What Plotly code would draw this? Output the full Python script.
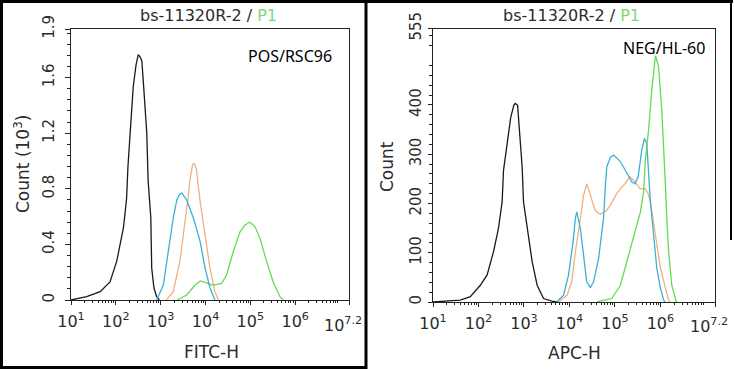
import math
import plotly.graph_objects as go

# ---------------- data (x in log10 units of fluorescence) ----------------
# Left panel: POS / RSC96, FITC-H, counts in thousands
pos_black_x = [1.0, 1.35, 1.65, 1.87, 2.02, 2.17, 2.24, 2.27, 2.35, 2.39, 2.45, 2.50, 2.54, 2.58, 2.63, 2.69, 2.72, 2.78, 2.80, 2.85, 2.91, 2.97]
pos_black_y = [0, 0.024, 0.06, 0.13, 0.28, 0.52, 0.73, 0.96, 1.35, 1.54, 1.69, 1.765, 1.75, 1.72, 1.49, 1.2, 0.86, 0.59, 0.23, 0.086, 0.024, 0]

pos_blue_x = [2.91, 3.06, 3.17, 3.28, 3.36, 3.42, 3.47, 3.52, 3.58, 3.73, 3.88, 3.99, 4.10, 4.21]
pos_blue_y = [0, 0.108, 0.35, 0.59, 0.72, 0.76, 0.77, 0.75, 0.72, 0.59, 0.42, 0.23, 0.086, 0]

pos_orange_x = [3.13, 3.28, 3.43, 3.54, 3.62, 3.65, 3.71, 3.74, 3.80, 3.83, 3.88, 3.99, 4.10, 4.21, 4.29]
pos_orange_y = [0, 0.06, 0.28, 0.54, 0.76, 0.86, 0.97, 0.985, 0.94, 0.84, 0.71, 0.47, 0.23, 0.06, 0]

pos_green_x = [3.36, 3.58, 3.77, 3.88, 3.99, 4.14, 4.25, 4.36, 4.47, 4.62, 4.77, 4.88, 4.99, 5.10, 5.22, 5.36, 5.51, 5.66, 5.73]
pos_green_y = [0, 0.036, 0.108, 0.137, 0.127, 0.108, 0.113, 0.12, 0.18, 0.35, 0.49, 0.54, 0.56, 0.53, 0.44, 0.28, 0.13, 0.024, 0]

# Right panel: NEG / HL-60, APC-H, counts
neg_black_x = [1.0, 1.31, 1.6, 1.82, 2.04, 2.19, 2.33, 2.44, 2.52, 2.55, 2.63, 2.71, 2.78, 2.81, 2.86, 2.91, 2.96, 2.99, 3.07, 3.18, 3.29, 3.43, 3.65, 3.75]
neg_black_y = [0, 2, 4, 11, 34, 55, 102, 150, 203, 267, 321, 375, 400, 403, 399, 342, 274, 203, 150, 82, 34, 7, 1, 0]

neg_blue_x = [3.72, 3.87, 3.98, 4.08, 4.13, 4.16, 4.24, 4.31, 4.38, 4.46, 4.53, 4.64, 4.75, 4.79, 4.82, 4.90, 4.97, 5.12, 5.26, 5.37, 5.44, 5.51, 5.59, 5.65, 5.70, 5.74, 5.78, 5.85, 5.92, 6.00, 6.07, 6.10]
neg_blue_y = [0, 14, 55, 122, 170, 183, 149, 88, 41, 29, 41, 88, 170, 237, 274, 294, 298, 285, 262, 244, 240, 254, 308, 332, 322, 261, 203, 136, 69, 28, 4, 0]

neg_orange_x = [3.76, 3.95, 4.05, 4.13, 4.24, 4.31, 4.38, 4.46, 4.57, 4.68, 4.82, 4.90, 5.04, 5.12, 5.22, 5.33, 5.44, 5.55, 5.66, 5.73, 5.78, 5.89, 6.00, 6.11, 6.18, 6.21]
neg_orange_y = [0, 14, 41, 102, 170, 217, 240, 217, 185, 178, 186, 197, 220, 230, 240, 254, 244, 230, 230, 220, 203, 136, 69, 28, 4, 0]

neg_green_x = [4.6, 4.93, 5.12, 5.26, 5.41, 5.56, 5.63, 5.67, 5.74, 5.81, 5.89, 5.96, 6.03, 6.08, 6.11, 6.14, 6.18, 6.25, 6.33, 6.35]
neg_green_y = [0, 7, 34, 82, 129, 183, 224, 288, 349, 430, 500, 477, 389, 308, 237, 170, 102, 34, 4, 0]

x_tickvals = [1, 2, 3, 4, 5, 6, 7.2]
x_ticktext = ["10<sup>1</sup>", "10<sup>2</sup>", "10<sup>3</sup>", "10<sup>4</sup>",
              "10<sup>5</sup>", "10<sup>6</sup>", ""]
x_last_label = "10<sup>7.2</sup>"
pos_y_tickvals = [0, 0.4, 0.8, 1.2, 1.6, 1.95]
pos_y_ticktext = ["0", "0.4", "0.8", "1.2", "1.6", "1.9"]
neg_y_tickvals = [0, 100, 200, 300, 400, 555]
neg_y_ticktext = ["0", "100", "200", "300", "400", "555"]

# ---------------- styling ----------------
W, H = 734, 369
C_BLACK = "#1a1a1a"
C_BLUE = "#3bb0d8"
C_ORANGE = "#f0b080"
C_GREEN = "#66d955"
FONT = "DejaVu Sans"
TXT = "#2b2b2b"

def px(x):
    return x / W

def py(y):
    return 1 - y / H

minor_x = [d + math.log10(k) for d in range(1, 8) for k in range(2, 10) if d + math.log10(k) < 7.2]

fig = go.Figure()

def add(xs, ys, color, xa, ya):
    fig.add_trace(go.Scatter(x=xs, y=ys, mode="lines", line=dict(color=color, width=1.3),
                             xaxis=xa, yaxis=ya, showlegend=False, hoverinfo="skip"))

add(pos_black_x, pos_black_y, C_BLACK, "x", "y")
add(pos_green_x, pos_green_y, C_GREEN, "x", "y")
add(pos_orange_x, pos_orange_y, C_ORANGE, "x", "y")
add(pos_blue_x, pos_blue_y, C_BLUE, "x", "y")
add(neg_black_x, neg_black_y, C_BLACK, "x2", "y2")
add(neg_orange_x, neg_orange_y, C_ORANGE, "x2", "y2")
add(neg_blue_x, neg_blue_y, C_BLUE, "x2", "y2")
add(neg_green_x, neg_green_y, C_GREEN, "x2", "y2")

common_x = dict(range=[1, 7.2], tickmode="array", tickvals=x_tickvals, ticktext=x_ticktext,
                showline=True, mirror=True, linecolor="#222", linewidth=1, automargin=False,
                ticks="outside", ticklen=4, tickcolor="#222", showgrid=False, zeroline=False,
                ticklabelstandoff=3,
                tickfont=dict(family=FONT, size=16, color=TXT),
                minor=dict(tickmode="array", tickvals=minor_x, ticks="outside", ticklen=2, tickcolor="#222"),
                fixedrange=True)
common_y = dict(showline=True, mirror=True, linecolor="#222", linewidth=1, automargin=False,
                ticks="outside", tickcolor="#222", showgrid=False, zeroline=False,
                tickangle=-90, tickfont=dict(family=FONT, size=15, color=TXT), fixedrange=True)

fig.update_layout(
    width=W, height=H, margin=dict(l=0, r=0, t=0, b=0, pad=0, autoexpand=False),
    paper_bgcolor="white", plot_bgcolor="white",
    xaxis=dict(domain=[px(71), px(349)], anchor="y", **common_x),
    yaxis=dict(domain=[py(300), py(29)], anchor="x", range=[0, 1.95], tickmode="array",
               tickvals=pos_y_tickvals, ticktext=pos_y_ticktext, ticklen=5, ticklabelstandoff=5,
               minor=dict(tickmode="array", tickvals=[i * 0.08 for i in range(25) if i % 5], ticks="outside",
                          ticklen=3, tickcolor="#222"),
               **common_y),
    xaxis2=dict(domain=[px(433), px(715)], anchor="y2", **common_x),
    yaxis2=dict(domain=[py(302), py(28.5)], anchor="x2", range=[0, 555], tickmode="array",
                tickvals=neg_y_tickvals, ticktext=neg_y_ticktext, ticklen=4, ticklabelstandoff=1,
                minor=dict(tickmode="array", tickvals=[v for v in range(0, 555, 20) if v % 100], ticks="outside",
                           ticklen=3, tickcolor="#222"),
                **common_y),
)

ann = []
def text(x, y, t, size, family=FONT, color=TXT, angle=0):
    ann.append(dict(x=px(x), y=py(y), xref="paper", yref="paper", text=t, showarrow=False,
                    xanchor="center", yanchor="middle", textangle=angle,
                    font=dict(family=family, size=size, color=color)))

title = "bs-11320R-2 / <span style='color:#7fd87a'>P1</span>"
text(208, 15, title, 16)
text(571, 15, title, 16)
text(211, 352, "FITC-H", 17)
text(574, 353, "APC-H", 17)
text(22, 164, "Count (10<sup>3</sup>)", 17, angle=-90)
text(387, 166, "Count", 17, angle=-90)
text(290, 56, "POS/RSC96", 16, family="Noto Sans", color="#000")
text(664, 48, "NEG/HL-60", 16, family="Noto Sans", color="#000")
text(343, 324, x_last_label, 16)
text(709, 325, x_last_label, 16)
fig.update_layout(annotations=ann)

shapes = [
    dict(type="rect", xref="paper", yref="paper", x0=px(1.5), x1=px(366), y0=py(367.5), y1=py(1.5),
         line=dict(color="black", width=3)),
    dict(type="line", xref="paper", yref="paper", x0=px(366), x1=px(733), y0=py(1.5), y1=py(1.5),
         line=dict(color="black", width=3)),
    dict(type="line", xref="paper", yref="paper", x0=px(731), x1=px(731), y0=py(0), y1=py(240),
         line=dict(color="black", width=2)),
]
fig.update_layout(shapes=shapes)

fig.write_html("out.html", config={"displayModeBar": False},
               post_script="document.documentElement.style.margin='0';document.body.style.margin='0';"
                           "document.body.style.overflow='hidden';")
